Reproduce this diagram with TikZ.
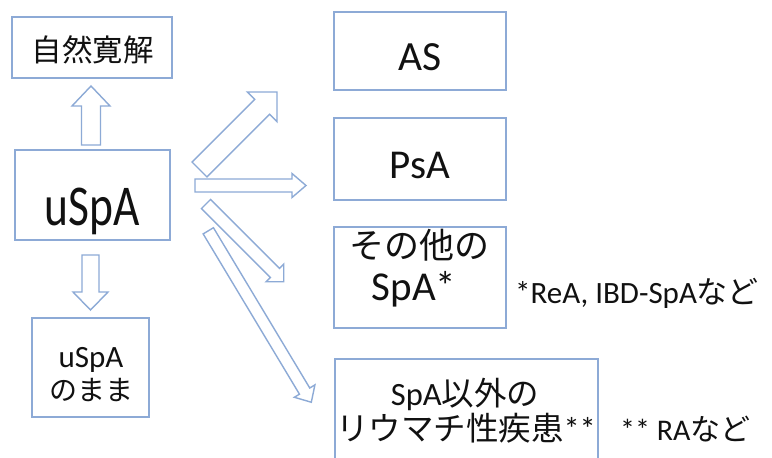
\documentclass[tikz,border=0pt]{standalone}
\usepackage{fontspec}
\usepackage{graphicx}
\setmainfont{Carlito}
\newfontfamily\jp{Noto Sans CJK JP}
\definecolor{edgeblue}{HTML}{8DAAD6}
\definecolor{inkblack}{HTML}{111111}
\tikzset{
  box/.style={draw=edgeblue, line width=1.4pt, inner sep=0pt, fill=white},
  txt/.style={inner sep=0pt, text=inkblack, anchor=base},
  arrowline/.style={draw=edgeblue, line width=1.4pt, line join=miter, fill=white},
  % hollow block arrow along +x: length, half shaft width, half head width, head length
  pics/blockarrow/.style n args={4}{code={
    \draw[arrowline] (0,-#2) -- ({#1-#4},-#2) -- ({#1-#4},-#3) -- (#1,0)
      -- ({#1-#4},#3) -- ({#1-#4},#2) -- (0,#2) -- cycle;
  }},
}
\newcommand{\fs}[1]{\fontsize{#1}{#1}\selectfont}
\begin{document}
\begin{tikzpicture}[x=1pt, y=-1pt]
\useasboundingbox (0,0) rectangle (772,458);
\clip (0,0) rectangle (772,458);
\fill[white] (0,0) rectangle (772,458);

% boxes
\node[box, minimum width=160pt, minimum height=61pt] (nat) at (92,47.5) {};
\node[box, minimum width=155pt, minimum height=90pt] (uspa) at (92.5,195) {};
\node[box, minimum width=117pt, minimum height=99pt] (stay) at (90.5,367.5) {};
\node[box, minimum width=172pt, minimum height=78pt] (as) at (420,51) {};
\node[box, minimum width=172pt, minimum height=82pt] (psa) at (420,159) {};
\node[box, minimum width=172pt, minimum height=101pt] (other) at (420,277.5) {};
\node[box, minimum width=263pt, minimum height=107pt] (rheum) at (466.5,412.5) {};

% texts
\node[txt, font=\jp\fs{30.5}] (nat-t) at (92.5,61) {自然寛解};
\node[txt, font=\fs{45.5}] (uspa-t) at (92.5,225) {\scalebox{1}[1.27]{uSpA}};
\node[txt, font=\fs{31}] (stay-t1) at (91,367) {uSpA};
\node[txt, font=\jp\fs{28}] (stay-t2) at (91,400) {のまま};
\node[txt, font=\fs{41.5}] (as-t) at (420,70) {AS};
\node[txt, font=\fs{41}] (psa-t) at (420,178) {PsA};
\node[txt, font=\jp\fs{35}] (other-t1) at (419,258) {その他の};
\node[txt, font=\fs{41}] (other-t2) at (414,300) {SpA*};
\node[txt, font=\fs{32.5}] (rheum-t1) at (465,405) {SpA{\jp 以外の}};
\node[txt, font=\fs{32.5}] (rheum-t2) at (466,440) {{\jp リウマチ性疾患}**};
\node[txt, font=\fs{31}, anchor=base west] (note1) at (515,303) {*ReA, IBD-SpA{\jp など}};
\node[txt, font=\fs{30}, anchor=base west] (note2) at (620,440) {** RA{\jp など}};

% hollow block arrows
\coordinate (up-tail) at (91,145);
\coordinate (down-tail) at (90.5,255);
\coordinate (as-tail) at (199.5,169.5);
\coordinate (psa-tail) at (195,185.5);
\coordinate (other-tail) at (206,204);
\coordinate (rheum-tail) at (208.3,230.8);
\pic[rotate=90] at (up-tail) {blockarrow={59}{9.5}{19}{20}};
\pic[rotate=-90] at (down-tail) {blockarrow={55}{8.5}{17.5}{18}};
\pic[rotate=45] at (as-tail) {blockarrow={109.6}{10.5}{21}{21}};
\pic[rotate=0] at (psa-tail) {blockarrow={111}{6.5}{12}{14}};
\pic[rotate=-45] at (other-tail) {blockarrow={110}{6.5}{12.5}{12.5}};
\pic[rotate=-59] at (rheum-tail) {blockarrow={200}{6}{12}{13}};
\end{tikzpicture}
\end{document}
